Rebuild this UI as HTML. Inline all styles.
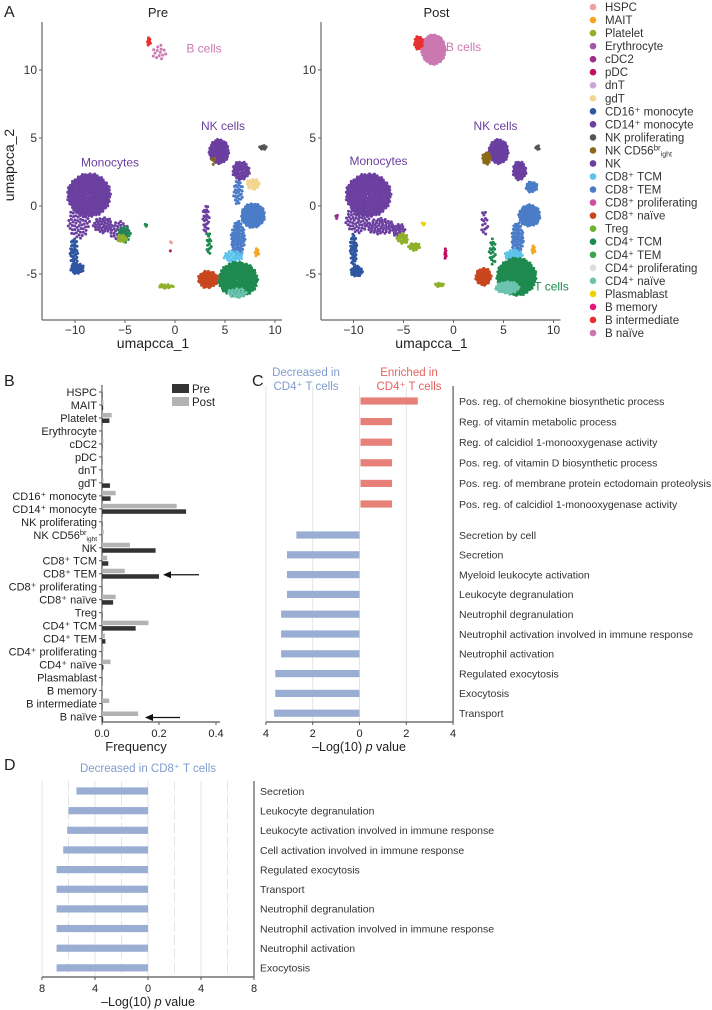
<!DOCTYPE html>
<html><head><meta charset="utf-8">
<style>
html,body{margin:0;padding:0;background:#fff;}
svg{display:block;font-family:"Liberation Sans",sans-serif;}
</style></head>
<body>
<svg id="fig" width="712" height="1010" viewBox="0 0 712 1010" xmlns="http://www.w3.org/2000/svg">
<g id="umap"></g>
<g id="legendA"></g>
<g id="panelB"></g>
<g id="panelC"></g>
<g id="panelD"></g>
</svg>
<script>
// ---------- DATA ----------
const cellTypes = ["HSPC","MAIT","Platelet","Erythrocyte","cDC2","pDC","dnT","gdT","CD16⁺ monocyte","CD14⁺ monocyte","NK proliferating","NK CD56bright","NK","CD8⁺ TCM","CD8⁺ TEM","CD8⁺ proliferating","CD8⁺ naïve","Treg","CD4⁺ TCM","CD4⁺ TEM","CD4⁺ proliferating","CD4⁺ naïve","Plasmablast","B memory","B intermediate","B naïve"];
const cellColors = ["#f0a0a0","#f5a623","#8fb02a","#a855a8","#9c2f8c","#c0105f","#c9a6d6","#f2d58e","#2f56a0","#6b3fa0","#555555","#8a6a1a","#6b3fa0","#5ec3ea","#4a7cc7","#d04fa0","#c8461e","#6ab42e","#1e8a4f","#3aa64a","#dddddd","#6cc4b0","#f0d000","#e0187a","#e83030","#cc78b0"];
const freqPre  = [0.002,0.004,0.026,0.001,0.002,0.001,0.001,0.028,0.03,0.295,0.002,0.001,0.188,0.022,0.2,0.001,0.039,0.002,0.118,0.012,0.001,0.005,0.001,0.001,0.002,0.004];
const freqPost = [0.001,0.005,0.034,0.001,0.005,0.003,0.002,0.005,0.048,0.262,0.002,0.006,0.098,0.018,0.08,0.001,0.048,0.003,0.163,0.01,0.005,0.03,0.001,0.002,0.025,0.127];
const freqTicks = [0,0.2,0.4];

const cTerms = ["Pos. reg. of chemokine biosynthetic process","Reg. of vitamin metabolic process","Reg. of calcidiol 1-monooxygenase activity","Pos. reg. of vitamin D biosynthetic process","Pos. reg. of membrane protein ectodomain proteolysis","Pos. reg. of calcidiol 1-monooxygenase activity","Secretion by cell","Secretion","Myeloid leukocyte activation","Leukocyte degranulation","Neutrophil degranulation","Neutrophil activation involved in immune response","Neutrophil activation","Regulated exocytosis","Exocytosis","Transport"];
const cValues = [2.45,1.35,1.35,1.35,1.35,1.35,-2.7,-3.1,-3.1,-3.1,-3.35,-3.35,-3.35,-3.6,-3.6,-3.65];
const cTicks = [-4,-2,0,2,4];

const dTerms = ["Secretion","Leukocyte degranulation","Leukocyte activation involved in immune response","Cell activation involved in immune response","Regulated exocytosis","Transport","Neutrophil degranulation","Neutrophil activation involved in immune response","Neutrophil activation","Exocytosis"];
const dValues = [-5.4,-6.0,-6.1,-6.4,-6.9,-6.9,-6.9,-6.9,-6.9,-6.9];
const dTicks = [-8,-4,0,4,8];

// UMAP clusters: [umapX, umapY, radiusX, radiusY, colorIndex, count]
const preClusters = [
 [-8.6,0.8,2.2,1.6,9,300],[-9.6,-1.2,1.1,1.2,9,60],[-7.2,-1.4,1.0,0.6,9,40],[-5.6,-1.8,1.0,0.7,9,35],[-5.1,-2.1,0.7,0.6,18,25],[-5.3,-2.4,0.5,0.3,2,15],[-10.1,-3.4,0.4,1.1,8,40],[-9.8,-4.6,0.7,0.4,8,30],
 [-2.6,12.1,0.2,0.3,24,8],[-1.6,11.3,0.7,0.6,25,14],
 [4.4,4.0,1.0,0.9,12,130],[6.6,2.6,0.9,0.7,12,50],[7.8,1.6,0.7,0.4,7,25],[8.8,4.3,0.4,0.15,10,12],[3.8,3.3,0.3,0.3,11,4],
 [7.8,-0.7,1.2,0.9,14,140],[6.3,-2.4,0.7,1.3,14,90],[6.3,1.0,0.5,0.9,14,30],[5.8,-3.7,1.0,0.4,13,30],[8.2,-3.4,0.25,0.3,1,8],
 [3.1,-1.0,0.35,1.1,12,25],[3.4,-2.8,0.25,0.9,18,15],
 [6.3,-5.4,2.0,1.3,18,240],[6.2,-6.4,1.0,0.35,21,25],[3.3,-5.4,1.0,0.65,16,65],
 [-0.9,-5.9,0.8,0.15,2,16],[-0.4,-2.7,0.08,0.1,0,2],[-0.5,-3.3,0.05,0.05,5,1],[-2.9,-1.4,0.15,0.1,18,3]
];
const postClusters = [
 [-8.5,0.8,2.3,1.6,9,300],[-9.6,-1.0,1.2,1.0,9,60],[-7.3,-1.5,1.4,0.6,9,55],[-5.5,-1.8,0.7,0.5,9,25],[-5.1,-2.4,0.6,0.4,2,20],[-3.9,-3.0,0.6,0.3,2,18],[-10.0,-3.2,0.35,1.2,8,45],[-9.7,-4.8,0.6,0.4,8,35],[-11.7,-0.8,0.15,0.15,4,4],[-3.0,-1.3,0.25,0.1,22,3],
 [-2.0,11.5,1.2,1.1,25,240],[-3.5,12.0,0.45,0.5,24,30],
 [4.5,4.0,1.0,0.9,12,130],[6.6,2.6,0.7,0.7,12,50],[3.3,3.5,0.45,0.45,11,25],[8.4,4.3,0.2,0.2,10,6],[7.8,1.4,0.6,0.4,14,30],
 [7.6,-0.7,1.1,0.8,14,110],[6.4,-2.4,0.6,1.2,14,70],[6.0,-3.6,0.9,0.4,13,35],[8.0,-3.2,0.2,0.3,1,8],
 [3.1,-1.3,0.35,1.0,12,15],[3.9,-3.4,0.35,1.0,18,20],[-0.8,-3.5,0.1,0.4,5,8],
 [6.3,-5.2,2.0,1.4,18,280],[5.4,-6.0,1.2,0.45,21,60],[3.0,-5.2,0.8,0.65,16,60],[-1.4,-5.8,0.45,0.15,2,10]
];
const preLabels = [["B cells",2.9,11.3,25],["NK cells",4.8,5.6,12],["Monocytes",-6.5,2.9,12]];
const postLabels = [["B cells",1.0,11.4,25],["NK cells",4.2,5.6,12],["Monocytes",-7.5,3.0,12],["T cells",9.8,-6.2,18]];

// ---------- HELPERS ----------
const NS="http://www.w3.org/2000/svg";
function mk(parent,tag,attrs,txt){const e=document.createElementNS(NS,tag);for(const k in attrs)e.setAttribute(k,attrs[k]);if(txt!==undefined)e.textContent=txt;parent.appendChild(e);return e;}
const fig=document.getElementById('fig');

[["A",4,17],["B",4,386],["C",252,386],["D",4,770]].forEach(l=>{
 const t=mk(fig,'text',{x:l[1],y:l[2],'font-size':16,fill:'#222'},l[0]);
 
 
});

// ---------- PANEL A ----------
const umapG=document.getElementById('umap');
function drawUmap(ox,x0,title,clusters,labels,name){
 const g=mk(umapG,'g',{});
 
 
 const sx=v=>x0+v*10, sy=v=>206-v*13.6;
 mk(g,'line',{x1:ox,y1:22,x2:ox,y2:320,stroke:'#666','stroke-width':1.2});
 mk(g,'line',{x1:ox,y1:320,x2:x0+107,y2:320,stroke:'#666','stroke-width':1.2});
 const tt=mk(g,'text',{x:x0-17,y:17,'font-size':13,'text-anchor':'middle',fill:'#222'},title);
 
 
 [10,5,0,-5].forEach(v=>{mk(g,'line',{x1:ox-3,x2:ox,y1:sy(v),y2:sy(v),stroke:'#666'});
  const t=mk(g,'text',{x:ox-5,y:sy(v)+4,'font-size':12,'text-anchor':'end',fill:'#333'},v<0?'-'+(-v):String(v));
  });
 [-10,-5,0,5,10].forEach(v=>{mk(g,'line',{x1:sx(v),x2:sx(v),y1:320,y2:323,stroke:'#666'});
  const t=mk(g,'text',{x:sx(v),y:334,'font-size':12,'text-anchor':'middle',fill:'#333'},v<0?'−'+(-v):String(v));
  });
 const xl=mk(g,'text',{x:x0-22,y:348,'font-size':14,'text-anchor':'middle',fill:'#222'},'umapcca_1');
 
 const ga=137.508*Math.PI/180;
 clusters.forEach(c=>{
  for(let i=0;i<c[5];i++){
   const r=Math.sqrt((i+0.5)/c[5]);
   const a=i*ga;
   const p=mk(g,'circle',{cx:sx(c[0]+c[2]*r*Math.cos(a)),cy:sy(c[1]+c[3]*r*Math.sin(a)),r:1.5,fill:cellColors[c[4]]});
   
   
  }
 });
 labels.forEach(l=>{
  const t=mk(g,'text',{x:sx(l[1]),y:sy(l[2]),'font-size':12,'text-anchor':'middle',fill:cellColors[l[3]]},l[0]);
  
 });
}
drawUmap(42,175,'Pre',preClusters,preLabels,'umap-pre');
drawUmap(321,453.5,'Post',postClusters,postLabels,'umap-post');
const yl=mk(umapG,'text',{x:14,y:165,'font-size':14,'text-anchor':'middle',fill:'#222',transform:'rotate(-90 14 165)'},'umapcca_2');


const legA=document.getElementById('legendA');
cellTypes.forEach((n,i)=>{
 const y=7+i*13.04;
 const d=mk(legA,'circle',{cx:593,cy:y,r:3.3,fill:cellColors[i]});
 
 const t=mk(legA,'text',{x:605,y:y+4,'font-size':11.5,fill:'#333'});
 
 if(n==="NK CD56bright"){t.textContent="NK CD56";mk(t,'tspan',{'font-size':8,dy:-4},'br');mk(t,'tspan',{'font-size':7,dy:6},'ight');}
 else t.textContent=n;
});

// ---------- PANEL B ----------
const gB=document.getElementById('panelB');
const bx=v=>102+v*285, by=i=>392+i*12.98;
mk(gB,'line',{x1:102,y1:385,x2:102,y2:722,stroke:'#555','stroke-width':1.2});
mk(gB,'line',{x1:102,y1:722,x2:220,y2:722,stroke:'#555','stroke-width':1.2});
cellTypes.forEach((n,i)=>{
 mk(gB,'line',{x1:99,x2:102,y1:by(i),y2:by(i),stroke:'#555'});
 const t=mk(gB,'text',{x:97,y:by(i)+4,'font-size':11,'text-anchor':'end',fill:'#222'});
 
 if(n==="NK CD56bright"){t.textContent="NK CD56";mk(t,'tspan',{'font-size':7.5,dy:-4},'br');mk(t,'tspan',{'font-size':6.5,dy:6},'ight');}
 else t.textContent=n;
 const bp=mk(gB,'rect',{x:102,y:by(i)-5,width:bx(freqPost[i])-102,height:4.5,fill:'#b3b3b3'});
 
 const br=mk(gB,'rect',{x:102,y:by(i)+0.5,width:bx(freqPre[i])-102,height:4.5,fill:'#333'});
 
});
freqTicks.forEach(v=>{
 mk(gB,'line',{x1:bx(v),x2:bx(v),y1:722,y2:725,stroke:'#555'});
 const t=mk(gB,'text',{x:bx(v),y:737,'font-size':11,'text-anchor':'middle',fill:'#222'},v.toFixed(1));
 
});
const fl=mk(gB,'text',{x:136,y:751,'font-size':13,'text-anchor':'middle',fill:'#222'},'Frequency');

[['Pre','#333',384],['Post','#b3b3b3',397]].forEach(l=>{
 const r=mk(gB,'rect',{x:172,y:l[2],width:17,height:9,fill:l[1]});
 
 const t=mk(gB,'text',{x:192,y:l[2]+9,'font-size':11.5,fill:'#222'},l[0]);
 
});
[[14,199,163],[25,180,145]].forEach(a=>{
 const y=by(a[0])+1;
 const g=mk(gB,'g',{});
 
 mk(g,'line',{x1:a[1],y1:y,x2:a[2]+4,y2:y,stroke:'#111','stroke-width':1.3});
 mk(g,'path',{d:`M${a[2]},${y} l8,-3.5 l0,7 z`,fill:'#111'});
});

// ---------- PANEL C ----------
const gC=document.getElementById('panelC');
const cx=v=>359.5+v*23.4, cy=i=>i<6?401+i*20.6:535+(i-6)*19.8;
cTicks.forEach(v=>{
 if(v!==4) mk(gC,'line',{x1:cx(v),x2:cx(v),y1:386,y2:722,stroke:'#e4e4e4','stroke-width':1});
});
mk(gC,'line',{x1:cx(4),y1:386,x2:cx(4),y2:722,stroke:'#555','stroke-width':1.2});
mk(gC,'line',{x1:cx(-4),y1:722,x2:cx(4),y2:722,stroke:'#555','stroke-width':1.2});
cTerms.forEach((n,i)=>{
 const v=cValues[i];
 const r=mk(gC,'rect',{x:Math.min(cx(0),cx(v))+(v>0?1:0),y:cy(i)-3.6,width:Math.abs(cx(v)-cx(0)),height:7.2,fill:v>0?'#e8807a':'#9aaed4'});
 
 const t=mk(gC,'text',{x:459,y:cy(i)+3.8,'font-size':10.5,fill:'#333'},n);
 
});
cTicks.forEach(v=>{
 mk(gC,'line',{x1:cx(v),x2:cx(v),y1:722,y2:725,stroke:'#555'});
 const t=mk(gC,'text',{x:cx(v),y:737,'font-size':11,'text-anchor':'middle',fill:'#222'},String(Math.abs(v)));
 
});
function pTitle(g,x,y){
 const t=mk(g,'text',{x:x,y:y,'font-size':12.5,'text-anchor':'middle',fill:'#222'},'–Log(10) ');
 mk(t,'tspan',{'font-style':'italic'},'p');
 mk(t,'tspan',{},' value');
 
}
pTitle(gC,359,751);
[['Decreased in',306,376,'#7f9ccf'],['CD4⁺ T cells',306,390,'#7f9ccf'],['Enriched in',409,376,'#e8635f'],['CD4⁺ T cells',409,390,'#e8635f']].forEach(h=>{
 const t=mk(gC,'text',{x:h[1],y:h[2],'font-size':11.5,'text-anchor':'middle',fill:h[3]},h[0]);
 
});

// ---------- PANEL D ----------
const gD=document.getElementById('panelD');
const dx=v=>148+v*13.25, dy=i=>791+i*19.65;
[-8,-6,-4,-2,0,2,4,6].forEach(v=>{
 mk(gD,'line',{x1:dx(v),x2:dx(v),y1:781,y2:977,stroke:'#e4e4e4','stroke-width':1,'stroke-dasharray':v%4===0?'':'10,4'});
});
mk(gD,'line',{x1:dx(8),y1:781,x2:dx(8),y2:977,stroke:'#555','stroke-width':1.2});
mk(gD,'line',{x1:dx(-8),y1:977,x2:dx(8),y2:977,stroke:'#555','stroke-width':1.2});
dTerms.forEach((n,i)=>{
 const r=mk(gD,'rect',{x:dx(dValues[i]),y:dy(i)-3.6,width:dx(0)-dx(dValues[i]),height:7.2,fill:'#9aaed4'});
 
 const t=mk(gD,'text',{x:260,y:dy(i)+3.8,'font-size':10.5,fill:'#333'},n);
 
});
dTicks.forEach(v=>{
 mk(gD,'line',{x1:dx(v),x2:dx(v),y1:977,y2:980,stroke:'#555'});
 const t=mk(gD,'text',{x:dx(v),y:992,'font-size':11,'text-anchor':'middle',fill:'#222'},String(Math.abs(v)));
 
});
pTitle(gD,148,1006);
const hd=mk(gD,'text',{x:148,y:772,'font-size':11.5,'text-anchor':'middle',fill:'#7f9ccf'},'Decreased in CD8⁺ T cells');

</script>
</body></html>
